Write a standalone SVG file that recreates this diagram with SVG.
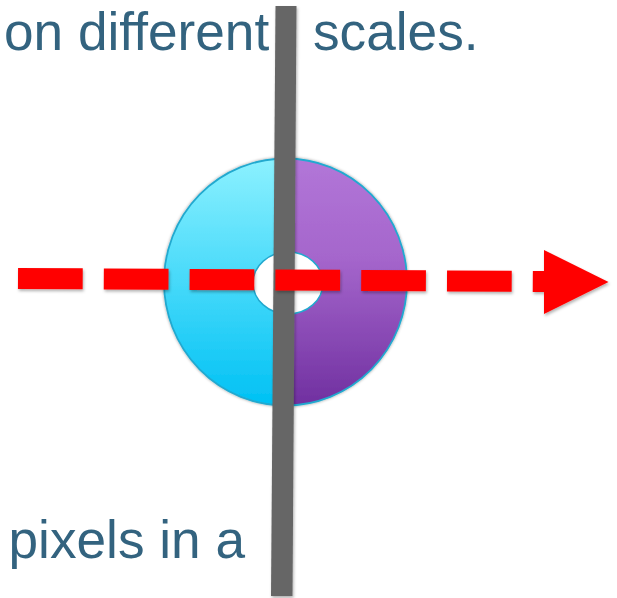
<svg xmlns="http://www.w3.org/2000/svg" width="617" height="598" viewBox="0 0 617 598">
<style>
.t{font-family:"Liberation Sans",Arial,sans-serif;font-size:53.200px;fill:#33637f}
.dash{fill:none;stroke:#ff0000;stroke-width:21;stroke-dasharray:64.7 21.1}
</style>
<defs>
<linearGradient id="gl" x1="0" y1="0" x2="0" y2="1"><stop offset="0" stop-color="#8cf1ff"/><stop offset="1" stop-color="#00c1f4"/></linearGradient>
<linearGradient id="gr" x1="0" y1="0" x2="0" y2="1"><stop offset="0" stop-color="#b276d8"/><stop offset="0.4" stop-color="#a566cc"/><stop offset="1" stop-color="#7030a0"/></linearGradient>
<filter id="sh" x="-20%" y="-20%" width="140%" height="140%"><feDropShadow dx="1" dy="2" stdDeviation="1.8" flood-color="#000" flood-opacity="0.3"/></filter>
<filter id="sb" x="-10%" y="-10%" width="120%" height="120%"><feGaussianBlur in="SourceGraphic" stdDeviation="0.6" result="b"/><feDropShadow in="b" dx="0" dy="0" stdDeviation="1.5" flood-color="#000" flood-opacity="0.4"/></filter>
<clipPath id="cl"><rect x="150" y="150" width="135" height="270"/></clipPath>
<clipPath id="cr"><rect x="285" y="150" width="135" height="270"/></clipPath>
</defs>
<rect width="617" height="598" fill="#fff"/>
<g id="text-top">
<text class="t" x="4" y="50">on different</text>
<text class="t" x="313" y="50">scales.</text>
</g>
<g id="text-bottom"><text class="t" x="8.500" y="558">pixels in a</text></g>
<g id="disc" filter="url(#sb)">
<path clip-path="url(#cl)" fill="url(#gl)" d="M285.500 158.500a121.500 123.500 0 1 0 .01 0z"/>
<path clip-path="url(#cr)" fill="url(#gr)" d="M285.500 158.500a121.500 123.500 0 1 0 .01 0z"/>
<ellipse cx="285.500" cy="282" rx="121.500" ry="123.500" fill="none" stroke="#22a9cf" stroke-width="1.800"/>
<ellipse cx="288" cy="283" rx="35" ry="31" fill="#fff" stroke="#22a9cf" stroke-width="1.500"/>
</g>
<g id="connectors">
<polygon id="bar" points="275.500,6 296.500,6 292.500,596 271,596" fill="#666666" filter="url(#sh)"/>
<g id="arrow" filter="url(#sh)">
<line class="dash" x1="18" y1="278.500" x2="546" y2="281.500"/>
<polygon points="544,250 608.500,282 544,314" fill="#ff0000"/>
</g>
</g>
</svg>
